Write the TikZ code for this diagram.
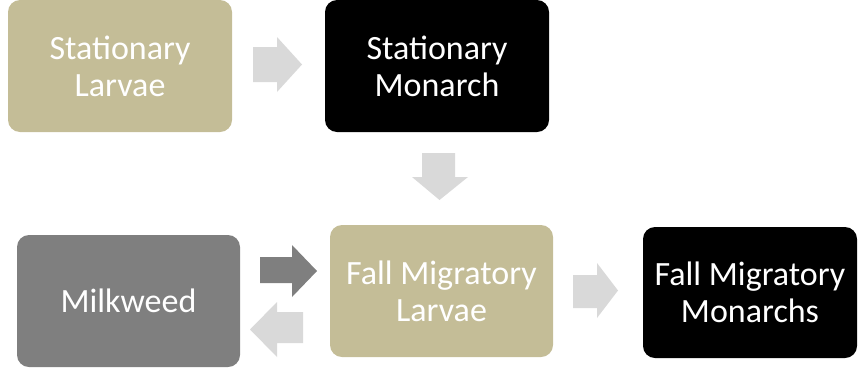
\documentclass[tikz,border=0pt]{standalone}
\usepackage{fontspec}
\setmainfont{Carlito}
\definecolor{tanbox}{HTML}{C4BD97}
\definecolor{graybox}{HTML}{7F7F7F}
\definecolor{lightarrow}{HTML}{D9D9D9}
\definecolor{darkarrow}{HTML}{7F7F7F}
\begin{document}
\begin{tikzpicture}[x=1pt,y=-1pt,
  box/.style={rounded corners=12pt, inner sep=0pt, text=white, align=center,
    font=\fontsize{34}{37}\selectfont},
  lightarr/.style={fill=lightarrow},
  darkarr/.style={fill=darkarrow}]
\useasboundingbox (0,0) rectangle (858,370);
% boxes
\node[box, fill=tanbox, minimum width=224pt, minimum height=132pt] (sl) at (120,66) {Stationary\\Larvae};
\node[box, fill=black, minimum width=224pt, minimum height=132pt] (sm) at (437,66) {Stationary\\Monarch};
\node[box, fill=graybox, minimum width=223pt, minimum height=132pt] (mw) at (128.5,301) {Milkweed};
\node[box, fill=tanbox, minimum width=223pt, minimum height=132pt] (fml) at (441.5,291) {Fall Migratory\\Larvae};
\node[box, fill=black, minimum width=214pt, minimum height=131pt] (fmm) at (750,292.5) {Fall Migratory\\Monarchs};
% block arrows
\fill[lightarr] (253,47) -- (277,47) -- (277,37) -- (302,64.5) -- (277,92) -- (277,82) -- (253,82) -- cycle;
\fill[lightarr] (422,153) -- (455,153) -- (455,177) -- (468,177) -- (439.5,200) -- (412,177) -- (422,177) -- cycle;
\fill[darkarr] (260,257) -- (292,257) -- (292,245) -- (317,271) -- (292,297) -- (292,283) -- (260,283) -- cycle;
\fill[lightarr] (303,312) -- (277,312) -- (277,302) -- (250,329.5) -- (277,357) -- (277,343) -- (303,343) -- cycle;
\fill[lightarr] (573,275) -- (597,275) -- (597,263) -- (618,290.5) -- (597,318) -- (597,308) -- (573,308) -- cycle;
\end{tikzpicture}
\end{document}
